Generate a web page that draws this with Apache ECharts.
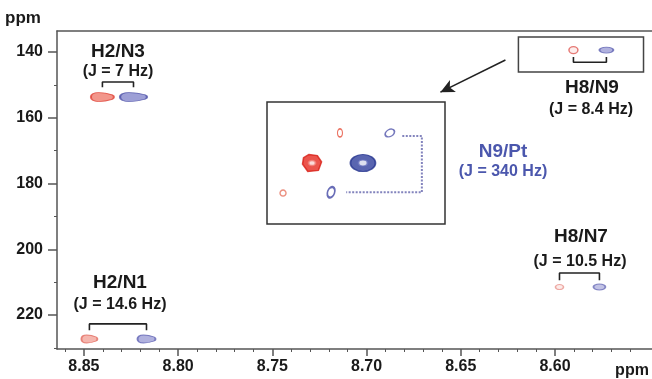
<!DOCTYPE html>
<html>
<head>
<meta charset="utf-8">
<script src="https://cdn.jsdelivr.net/npm/echarts@6/dist/echarts.min.js"></script>
<style>
  html, body { margin: 0; padding: 0; background: #fff; }
  #chart { width: 652px; height: 379px; }
</style>
</head>
<body>
<div id="chart"></div>
<script>
// axis ticks (ppm)
const xTicks = [8.85, 8.8, 8.75, 8.7, 8.65, 8.6]
const xMinorTicks = [8.86, 8.84, 8.83, 8.82, 8.81, 8.79, 8.78, 8.77, 8.76, 8.74, 8.73, 8.72, 8.71,
  8.69, 8.68, 8.67, 8.66, 8.64, 8.63, 8.62, 8.61, 8.59, 8.58, 8.57, 8.56]
const yTicks = [140, 160, 180, 200, 220]
const yMinorTicks = [150, 170, 190, 210, 230]

// coupled pairs: [1H ppm, 15N ppm]
const pairNames = ['H2/N3', 'H2/N1', 'H8/N9', 'H8/N7']
const couplings = ['(J = 7 Hz)', '(J = 14.6 Hz)', '(J = 8.4 Hz)', '(J = 10.5 Hz)']
const redPeaks = [[8.8402, 153.7], [8.8471, 227.3], [8.5902, 139.4], [8.5976, 211.5]]
const bluePeaks = [[8.8237, 153.7], [8.8168, 227.3], [8.5727, 139.4], [8.5764, 211.5]]

// expanded H8/N9 region with 195Pt satellites (relative units 0-100)
const insetRed = [[25.3, 50], [41, 25.4], [9, 74.6]]
const insetBlue = [[53.9, 50], [69, 25.4], [36, 74]]
const insetName = 'N9/Pt'
const insetCoupling = '(J = 340 Hz)'

const FONT = '"Liberation Sans", Arial, sans-serif'
const AXIS = '#555'
const TEXT = '#1a1a1a'
// bullet-like contour: round left end, narrower round right end
const drop = 'path://M8,0 C3,0 0,2 0,5 C0,8 3,10 8,10 C14,10 19,8.5 22,7.5 C24.5,6.7 24.5,3.3 22,2.5 C19,1.5 14,0 8,0 Z'
const blob = 'path://M6,0 L14,1 L18,7 L15,15 L5,16 L0,9 L1,3 Z'

// per-pair peak styles
const redStyle = [
  { symbol: drop, size: [23, 9], fill: '#ef7c6e', border: '#e0453a' },
  { symbol: drop, size: [16, 8], fill: '#f3a49a', border: '#e26a5f' },
  { symbol: 'circle', size: [9, 7], fill: '#fbe9e7', border: '#e05a55' },
  { symbol: 'circle', size: [8, 5], fill: '#fbe6e3', border: '#e8938d' },
]
const blueStyle = [
  { symbol: drop, size: [27, 9], fill: '#8587cc', border: '#4d51a8' },
  { symbol: drop, size: [18, 8], fill: '#9c9dd6', border: '#6063b4' },
  { symbol: 'circle', size: [14, 6], fill: '#9c9ed6', border: '#5e61b2' },
  { symbol: 'circle', size: [12, 6], fill: '#b3b4de', border: '#6a6db8' },
]
// bracket offsets above (+) / below (-) the peaks, in ppm
const bracketOff = [[3.0, 4.6], [2.7, 4.6], [-2.1, -3.7], [2.1, 4.3]]

const peakItems = (peaks, styles) =>
  peaks.map((p, i) => ({
    value: p,
    symbol: styles[i].symbol,
    symbolSize: styles[i].size,
    itemStyle: { color: styles[i].fill, borderColor: styles[i].border, borderWidth: 1.3 },
  }))

const bracketSeries = pairNames.map((name, i) => {
  const r = redPeaks[i]
  const b = bluePeaks[i]
  const [lo, hi] = bracketOff[i]
  return {
    type: 'line',
    name: name,
    xAxisIndex: 0,
    yAxisIndex: 0,
    showSymbol: false,
    silent: true,
    lineStyle: { color: '#222', width: 1.6 },
    data: [[r[0], r[1] - lo], [r[0], r[1] - hi], [b[0], b[1] - hi], [b[0], b[1] - lo]],
  }
})

const insetRedStyle = [
  { symbol: blob, size: [19, 17], fill: '#e6291f', border: '#d81f17', w: 1.5, rot: 0 },
  { symbol: 'circle', size: [5, 8], fill: '#fff', border: '#e6533f', w: 1.4, rot: 0 },
  { symbol: 'circle', size: [6, 6], fill: '#fff', border: '#e6735f', w: 1.4, rot: 0 },
]
const insetBlueStyle = [
  { symbol: 'circle', size: [25, 17], fill: '#2f3f9c', border: '#26358f', w: 1.5, rot: 0 },
  { symbol: 'circle', size: [10, 7], fill: '#fff', border: '#5356ab', w: 1.5, rot: 30 },
  { symbol: 'circle', size: [7, 11], fill: '#fff', border: '#4448a5', w: 2, rot: -20 },
]
const insetItems = (peaks, styles) =>
  peaks.map((p, i) => ({
    value: p,
    symbol: styles[i].symbol,
    symbolSize: styles[i].size,
    symbolRotate: styles[i].rot,
    itemStyle: { color: styles[i].fill, borderColor: styles[i].border, borderWidth: styles[i].w },
  }))

const bigTop = insetBlue[1]
const bigBottom = insetBlue[2]
const satBracket = [[bigTop[0] + 7, bigTop[1] + 2.5], [87, bigTop[1] + 2.5], [87, bigBottom[1]], [bigBottom[0] + 8.5, bigBottom[1]]]

const label = (text, x, y, size, color) => ({
  type: 'text',
  x: x,
  y: y,
  style: {
    text: text,
    fill: color || TEXT,
    font: `bold ${size}px ${FONT}`,
    textAlign: 'center',
    textVerticalAlign: 'middle',
  },
})

const chart = echarts.init(document.getElementById('chart'))
chart.setOption({
  animation: false,
  grid: [
    { left: 57, right: 0, top: 31, bottom: 30 },
    { left: 267, top: 102, width: 178, height: 122, show: true, borderColor: '#333', borderWidth: 1.5, backgroundColor: 'transparent' },
  ],
  xAxis: [
    {
      type: 'value',
      gridIndex: 0,
      position: 'bottom',
      min: 8.5485,
      max: 8.8643,
      inverse: true,
      splitLine: { show: false },
      axisLine: { onZero: false, lineStyle: { color: AXIS, width: 1.5 } },
      axisTick: { customValues: xTicks, length: 7, lineStyle: { color: AXIS, width: 1.5 } },
      axisLabel: {
        customValues: xTicks,
        formatter: (v) => v.toFixed(2),
        margin: 10,
        color: TEXT,
        fontWeight: 'bold',
        fontSize: 16,
        fontFamily: FONT,
      },
    },
    {
      type: 'value',
      gridIndex: 0,
      position: 'bottom',
      min: 8.5485,
      max: 8.8643,
      inverse: true,
      splitLine: { show: false },
      axisLine: { show: false, onZero: false },
      axisTick: { customValues: xMinorTicks, length: 3, lineStyle: { color: AXIS, width: 1 } },
      axisLabel: { show: false },
    },
    {
      type: 'value',
      gridIndex: 0,
      position: 'top',
      min: 8.5485,
      max: 8.8643,
      inverse: true,
      splitLine: { show: false },
      axisLine: { onZero: false, lineStyle: { color: AXIS, width: 1.5 } },
      axisTick: { show: false },
      axisLabel: { show: false },
    },
    { type: 'value', gridIndex: 1, min: 0, max: 100, show: false },
  ],
  yAxis: [
    {
      type: 'value',
      gridIndex: 0,
      position: 'left',
      min: 133.6,
      max: 230.34,
      inverse: true,
      splitLine: { show: false },
      axisLine: { onZero: false, lineStyle: { color: AXIS, width: 1.5 } },
      axisTick: { customValues: yTicks, length: 9, lineStyle: { color: AXIS, width: 1.5 } },
      axisLabel: {
        customValues: yTicks,
        margin: 14,
        color: TEXT,
        fontWeight: 'bold',
        fontSize: 16,
        fontFamily: FONT,
      },
    },
    {
      type: 'value',
      gridIndex: 0,
      position: 'left',
      min: 133.6,
      max: 230.34,
      inverse: true,
      splitLine: { show: false },
      axisLine: { show: false, onZero: false },
      axisTick: { customValues: yMinorTicks, length: 3, lineStyle: { color: AXIS, width: 1 } },
      axisLabel: { show: false },
    },
    { type: 'value', gridIndex: 1, min: 0, max: 100, inverse: true, show: false },
  ],
  series: [
    ...bracketSeries,
    {
      type: 'scatter',
      name: 'red',
      xAxisIndex: 0,
      yAxisIndex: 0,
      data: peakItems(redPeaks, redStyle),
      markArea: {
        silent: true,
        itemStyle: { color: 'rgba(0,0,0,0)', borderColor: '#444', borderWidth: 1.5 },
        data: [[{ coord: [8.6194, 135.4] }, { coord: [8.553, 146.1] }]],
      },
      markLine: {
        silent: true,
        symbol: ['none', 'arrow'],
        symbolSize: [10, 14],
        label: { show: false },
        lineStyle: { color: '#222', width: 1.6, type: 'solid' },
        data: [[{ coord: [8.6263, 142.4] }, { coord: [8.6608, 152.2] }]],
      },
    },
    {
      type: 'scatter',
      name: 'blue',
      xAxisIndex: 0,
      yAxisIndex: 0,
      data: peakItems(bluePeaks, blueStyle),
    },
    {
      type: 'line',
      name: 'satellite bracket',
      xAxisIndex: 3,
      yAxisIndex: 2,
      showSymbol: false,
      silent: true,
      lineStyle: { color: '#8384bd', width: 2, type: [2, 1.5] },
      data: satBracket,
    },
    {
      type: 'scatter',
      name: 'inset red',
      xAxisIndex: 3,
      yAxisIndex: 2,
      data: insetItems(insetRed, insetRedStyle),
    },
    {
      type: 'scatter',
      name: 'inset blue',
      xAxisIndex: 3,
      yAxisIndex: 2,
      data: insetItems(insetBlue, insetBlueStyle),
    },
    {
      type: 'scatter',
      name: 'inset cores',
      xAxisIndex: 3,
      yAxisIndex: 2,
      z: 5,
      data: [
        { value: insetRed[0], symbolSize: [7, 5], itemStyle: { color: '#fff', borderColor: '#f08078', borderWidth: 1.5 } },
        { value: insetBlue[0], symbolSize: [9, 6], itemStyle: { color: '#fff', borderColor: '#6a74c0', borderWidth: 1.5 } },
      ],
    },
  ],
  graphic: [
    label('ppm', 23, 18, 17),
    label('ppm', 632, 371, 16),
    label(pairNames[0], 118, 52, 19),
    label(couplings[0], 118, 72, 16),
    label(pairNames[1], 120, 283, 19),
    label(couplings[1], 120, 305, 16),
    label(pairNames[2], 592, 88, 19),
    label(couplings[2], 591, 110, 16),
    label(pairNames[3], 581, 237, 19),
    label(couplings[3], 580, 262, 16),
    label(insetName, 503, 152, 19, '#4b57ad'),
    label(insetCoupling, 503, 172, 16, '#4b57ad'),
  ],
})
</script>
</body>
</html>
